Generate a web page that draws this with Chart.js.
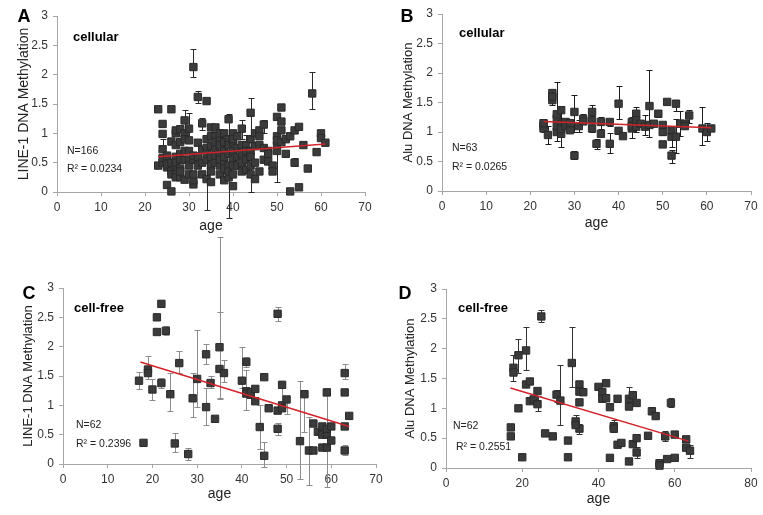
<!DOCTYPE html>
<html>
<head>
<meta charset="utf-8">
<script src="https://cdn.jsdelivr.net/npm/chart.js@4"></script>
<style>
    body { margin: 0; background: #fff; width: 763px; height: 515px; overflow: hidden; position: relative; }
    canvas { position: absolute; }
</style>
</head>
<body>
<canvas id="chartA" width="380" height="255" style="left:0;top:0"></canvas>
<canvas id="chartB" width="383" height="255" style="left:380px;top:0"></canvas>
<canvas id="chartC" width="395" height="290" style="left:0;top:225px"></canvas>
<canvas id="chartD" width="383" height="260" style="left:380px;top:255px"></canvas>
<script>
// [age, methylation]
const ptsA = [
    [23, 1.41], [23, 0.45],
    [24, 1.16], [24, 0.99], [24, 0.73], [24, 0.5], [24, 0.58],
    [25, 0.12], [25, 0.55], [25, 0.42], [25, 0.62], [25, 0.47],
    [26, 1.41], [26, 0.01], [26, 0.86], [26, 0.35], [26, 0.5], [26, 0.3],
    [27, 1.0], [27, 0.8], [27, 0.6], [27, 0.3], [27, 0.45], [27, 1.05], [27, 0.25], [27, 0.5],
    [28, 1.07], [28, 0.65], [28, 0.55], [28, 0.4], [28, 0.25], [28, 0.35], [28, 0.85],
    [29, 1.22], [29, 1.0], [29, 0.9], [29, 0.21], [29, 0.55], [29, 0.7],
    [30, 1.08], [30, 0.88], [30, 0.55], [30, 0.3], [30, 0.45], [30, 0.7],
    [31, 2.13], [31, 0.13], [31, 0.2], [31, 0.55], [31, 0.3], [31, 0.62],
    [32, 1.62], [32, 0.84], [32, 0.45], [32, 0.6],
    [33, 1.17], [33, 0.5], [33, 0.72], [33, 0.3],
    [34, 1.55], [34, 0.75], [34, 0.22], [34, 0.55], [34, 0.65], [34, 0.9],
    [35, 1.1], [35, 0.17], [35, 0.95], [35, 0.6], [35, 0.45], [35, 0.78], [35, 0.35],
    [36, 1.1], [36, 0.95], [36, 0.75], [36, 0.5], [36, 0.62], [36, 0.85],
    [37, 0.9], [37, 0.8], [37, 0.65], [37, 0.45], [37, 0.55], [37, 1.0], [37, 0.3],
    [38, 1.0], [38, 0.85], [38, 0.7], [38, 0.5], [38, 0.4], [38, 0.6], [38, 0.2],
    [39, 1.24], [39, 0.9], [39, 0.8], [39, 0.25], [39, 0.45], [39, 0.65], [39, 0.35],
    [40, 1.0], [40, 0.85], [40, 0.7], [40, 0.55], [40, 0.1], [40, 0.3], [40, 0.9], [40, 0.45],
    [41, 0.45], [41, 0.75], [41, 0.6], [41, 0.95],
    [42, 1.08], [42, 0.8], [42, 0.65], [42, 0.5], [42, 0.35],
    [43, 0.8], [43, 0.55], [43, 0.38], [43, 0.7],
    [44, 1.35], [44, 0.7], [44, 0.3], [44, 0.9], [44, 0.6], [44, 0.45],
    [45, 1.0], [45, 0.22], [45, 0.5], [45, 0.78],
    [46, 1.05], [46, 0.8], [46, 0.35], [46, 0.95],
    [47, 1.15], [47, 0.55], [47, 0.75],
    [48, 0.7], [48, 0.65], [48, 0.52],
    [49, 0.45], [49, 0.35],
    [50, 1.28], [50, 0.95], [50, 0.7], [50, 0.8], [50, 0.88],
    [51, 1.44], [51, 1.2], [51, 1.05], [51, 0.85],
    [52, 0.65], [52, 0.9], [53, 0.01], [53, 0.95], [54, 1.05], [54, 0.5],
    [55, 1.11], [55, 0.08], [56, 0.8], [57, 0.4], [58, 1.68], [59, 0.68],
    [60, 1.0], [60, 0.92], [61, 0.84]
];
// [age, low, high]
const errA = [
    [31, 1.96, 2.43], [32, 1.52, 1.73], [29, 1.0, 1.4], [30, 0.9, 1.35], [33, 1.05, 1.26],
    [39, 0.95, 1.33], [38, 0.33, 0.85], [44, 0.0, 1.6], [42, 0.9, 1.22], [43, 0.6, 0.97],
    [47, 1.0, 1.22], [50, 0.17, 0.95], [58, 1.41, 2.04], [34, -0.3, 0.5], [39, -0.45, 0.5],
    [54, 0.45, 0.58], [24, 0.58, 0.9]
];
const trendA = [[23, 0.6], [61, 0.82]];

const ptsB = [
    [23, 1.11], [23, 1.06], [23, 1.15], [24, 0.95], [25, 1.66], [25, 1.54], [25, 1.6],
    [26, 1.23], [26, 1.0], [26, 1.1], [26, 1.3], [27, 1.37], [27, 0.97], [27, 1.14], [27, 1.05],
    [28, 1.17], [28, 1.1], [29, 1.03], [29, 1.15], [30, 1.34], [30, 0.6], [31, 1.1],
    [32, 1.22], [32, 1.18], [34, 1.34], [34, 1.06], [34, 1.2], [35, 0.8], [36, 0.97], [36, 1.17],
    [38, 1.17], [38, 0.8], [40, 1.48], [40, 1.02], [41, 0.93], [43, 1.17], [43, 1.06], [43, 1.1],
    [44, 1.31], [44, 1.09], [44, 1.2], [45, 1.14], [46, 1.09], [47, 1.44], [47, 1.12], [48, 1.14],
    [49, 1.31], [50, 1.12], [50, 1.0], [50, 0.79], [51, 1.51], [52, 0.92], [52, 0.6], [52, 1.03],
    [53, 1.48], [53, 0.92], [54, 1.14], [55, 1.14], [55, 1.1], [56, 1.28], [59, 1.06], [60, 1.0],
    [61, 1.06]
];
const errB = [
    [23, 1.0, 1.2], [24, 0.8, 1.1], [26, 0.85, 1.85], [27, 0.75, 1.1], [27, 1.2, 1.4], [25, 1.45, 1.68],
    [29, 1.0, 1.2], [30, 1.0, 1.63], [30, 0.55, 0.68], [31, 1.0, 1.2], [32, 1.15, 1.3], [34, 1.0, 1.45],
    [35, 0.72, 0.88], [36, 1.05, 1.25], [38, 0.65, 0.98], [38, 1.1, 1.22], [40, 1.22, 1.78],
    [43, 0.9, 1.25], [44, 1.0, 1.42], [46, 0.95, 1.28], [47, 0.92, 2.05], [49, 1.25, 1.33],
    [50, 0.95, 1.15], [52, 0.48, 0.7], [52, 0.75, 1.1], [53, 0.65, 1.22], [53, 1.35, 1.5],
    [54, 0.93, 1.35], [56, 1.15, 1.38], [59, 0.78, 1.43], [60, 0.85, 1.15]
];
const trendB = [[23, 1.18], [61, 1.07]];

const ptsC = [
    [17, 1.42], [18, 0.36], [19, 1.61], [19, 1.55], [20, 1.27], [21, 2.5], [21, 2.25], [22, 2.73],
    [22, 1.38], [23, 2.27], [24, 1.19], [25, 0.35], [26, 1.72], [28, 0.17], [29, 1.12], [30, 1.45],
    [32, 1.87], [32, 0.97], [33, 1.38], [34, 0.77], [35, 1.99], [35, 1.62], [36, 1.55], [40, 1.42],
    [41, 1.74], [41, 1.24], [41, 1.2], [42, 1.18], [42, 1.22], [43, 1.28], [43, 1.07], [44, 0.63],
    [45, 1.48], [45, 0.14], [46, 0.95], [48, 2.56], [48, 0.91], [48, 0.6], [49, 1.35], [49, 1.0],
    [49, 0.95], [50, 1.1], [53, 0.39], [54, 1.19], [55, 0.23], [56, 0.69], [56, 0.23], [57, 0.55],
    [58, 0.64], [58, 0.5], [58, 0.28], [59, 1.22], [59, 0.5], [59, 0.28], [59, 0.6], [60, 0.64],
    [60, 0.4], [63, 1.55], [63, 1.22], [63, 0.64], [63, 0.23], [64, 0.82]
];
const errC = [
    [17, 1.28, 1.57], [19, 1.45, 1.84], [20, 1.09, 1.45], [22, 1.3, 1.47], [23, 2.2, 2.35],
    [24, 0.9, 1.55], [25, 0.2, 0.52], [26, 1.55, 1.92], [28, 0.07, 0.28], [29, 0.8, 1.55],
    [30, 0.97, 2.28], [32, 1.7, 2.05], [32, 0.67, 1.3], [33, 1.3, 1.5], [35, 1.12, 3.87],
    [35, 1.1, 2.59], [36, 1.4, 1.77], [40, 1.3, 1.99], [41, 1.65, 1.83], [41, 0.92, 1.6],
    [44, 0.26, 1.0], [45, -0.05, 0.38], [48, 2.44, 2.67], [48, 0.5, 0.7], [49, 0.9, 1.4],
    [50, 0.85, 1.15], [53, -0.25, 1.42], [54, 0.55, 1.26], [55, -0.35, 0.8], [59, -0.4, 1.3],
    [63, 1.45, 1.7], [63, 0.15, 0.33]
];
const trendC = [[17.3, 1.74], [64, 0.64]];

const ptsD = [
    [17, 0.68], [17, 0.53], [17.7, 1.68], [17.7, 1.6], [19, 1.89], [19, 1.0], [20, 0.18],
    [21, 1.97], [21, 1.4], [22, 1.45], [22, 1.12], [23, 1.15], [24, 1.29], [24, 1.07], [25, 2.54],
    [26, 0.58], [28, 0.53], [29, 1.23], [30, 1.13], [32, 0.46], [32, 0.18], [33, 1.76], [34, 0.78],
    [35, 1.4], [35, 1.28], [35, 1.1], [35, 0.66], [36, 1.27], [40, 1.36], [41, 1.27], [41, 1.16],
    [42, 1.42], [42, 1.17], [43, 1.02], [43, 0.17], [44, 0.7], [45, 1.16], [45, 0.39], [46, 0.42],
    [48, 1.16], [48, 1.03], [48, 0.11], [49, 1.22], [49, 0.4], [50, 1.09], [50, 0.5], [50, 0.26],
    [53, 0.54], [54, 0.95], [55, 0.87], [56, 0.08], [56, 0.04], [57.5, 0.53], [58, 0.15],
    [59, 1.09], [60, 0.56], [60, 0.17], [63, 0.48], [63, 0.34], [64, 0.29], [34, 0.72], [44, 0.66]
];
const errD = [
    [17.7, 1.45, 1.9], [19, 1.6, 2.17], [21, 1.65, 2.36], [24, 0.96, 1.2], [25, 2.44, 2.64],
    [29, 1.1, 1.3], [30, 0.72, 1.73], [33, 1.35, 2.36], [34, 0.7, 0.88], [35, 0.57, 0.73],
    [44, 0.6, 0.8], [48, 1.0, 1.35], [50, 0.17, 0.35], [54, 0.9, 1.03], [57.5, 0.45, 0.62],
    [59, 1.03, 1.17], [64, 0.17, 0.38], [19, 0.95, 1.05]
];
const trendD = [[16.9, 1.34], [63.6, 0.45]];

const yTicks = [0, 0.5, 1, 1.5, 2, 2.5, 3];

Chart.defaults.font.family = "'Liberation Sans', Arial, sans-serif";
Chart.defaults.color = '#333';

const errorBars = {
    id: 'errorBars',
    beforeDatasetsDraw(chart, args, opts) {
        const { ctx, scales: { x, y } } = chart;
        ctx.save();
        ctx.strokeStyle = opts.color;
        ctx.lineWidth = 1;
        opts.bars.forEach(([age, lo, hi]) => {
            const px = Math.round(x.getPixelForValue(age)) + 0.5;
            const top = Math.round(y.getPixelForValue(hi)) + 0.5;
            const bot = Math.round(y.getPixelForValue(lo)) + 0.5;
            ctx.beginPath();
            ctx.moveTo(px, top); ctx.lineTo(px, bot);
            ctx.moveTo(px - 3, top); ctx.lineTo(px + 3, top);
            ctx.moveTo(px - 3, bot); ctx.lineTo(px + 3, bot);
            ctx.stroke();
        });
        ctx.restore();
    }
};

const panelText = {
    id: 'panelText',
    afterDraw(chart, args, o) {
        const ctx = chart.ctx;
        ctx.save();
        ctx.textBaseline = 'middle';
        ctx.textAlign = 'center';
        ctx.fillStyle = '#000';
        ctx.font = "bold 18px 'Liberation Sans', Arial, sans-serif";
        ctx.fillText(o.letter, o.letterPos[0], o.letterPos[1]);
        ctx.textAlign = 'left';
        ctx.font = "bold 13px 'Liberation Sans', Arial, sans-serif";
        ctx.fillText(o.group, o.groupPos[0], o.groupPos[1]);
        ctx.fillStyle = '#222';
        ctx.font = "10.5px 'Liberation Sans', Arial, sans-serif";
        ctx.fillText(o.n, o.nPos[0], o.nPos[1]);
        ctx.fillText(o.r2, o.r2Pos[0], o.r2Pos[1]);
        ctx.restore();
    }
};

const toXY = arr => arr.map(([x, y]) => ({ x, y }));

function makePanel(p) {
    const axisGrey = '#a6a6a6';
    new Chart(document.getElementById(p.id), {
        type: 'scatter',
        data: {
            datasets: [{
                data: toXY(p.trend),
                showLine: true,
                borderColor: '#d2232a',
                borderWidth: 1.5,
                pointRadius: 0,
                clip: false
            }, {
                data: toXY(p.pts),
                pointStyle: 'rect',
                pointRadius: 5.2,
                backgroundColor: '#3b3b3b',
                borderColor: '#2a2a2a',
                borderWidth: 1,
                clip: false
            }]
        },
        options: {
            responsive: false,
            animation: false,
            devicePixelRatio: 1,
            layout: { padding: { left: 0, top: p.padTop, right: p.padRight, bottom: 0 } },
            plugins: {
                legend: { display: false },
                tooltip: { enabled: false },
                errorBars: { bars: p.err, color: p.errColor },
                panelText: p.text
            },
            scales: {
                x: {
                    type: 'linear',
                    min: 0, max: p.xMax,
                    afterFit: s => { s.height = p.xH; },
                    ticks: { stepSize: p.xStep, padding: 4, font: { size: 12 }, color: '#333', maxRotation: 0 },
                    grid: { drawOnChartArea: false, drawTicks: true, tickLength: 4, color: axisGrey },
                    border: { color: axisGrey },
                    title: { display: true, text: 'age', font: { size: 14 }, color: '#222', padding: { top: 0, bottom: p.xTitlePad } }
                },
                y: {
                    min: 0, max: 3,
                    afterFit: s => { s.width = p.yW; },
                    afterBuildTicks: s => { s.ticks = yTicks.map(v => ({ value: v })); },
                    ticks: { padding: 5, font: { size: 12 }, color: '#333', callback: v => String(v) },
                    grid: { drawOnChartArea: false, drawTicks: true, tickLength: 4, color: axisGrey },
                    border: { color: axisGrey },
                    title: { display: true, text: p.yTitle, font: { size: p.yTitleSize }, color: '#222', padding: { top: p.yTitlePad, bottom: 0 } }
                }
            }
        },
        plugins: [errorBars, panelText]
    });
}

document.addEventListener('DOMContentLoaded', function () {
    makePanel({
        id: 'chartA', pts: ptsA, err: errA, trend: trendA, errColor: '#2a2a2a',
        yTitle: 'LINE-1 DNA Methylation', yTitleSize: 14, xMax: 70, xStep: 10,
        padTop: 16, padRight: 15, yW: 57, xH: 63, yTitlePad: 16, xTitlePad: 20,
        text: { letter: 'A', letterPos: [24, 17], group: 'cellular', groupPos: [73, 37],
            n: 'N=166', nPos: [67, 151], r2: 'R² = 0.0234', r2Pos: [67, 169] }
    });
    makePanel({
        id: 'chartB', pts: ptsB, err: errB, trend: trendB, errColor: '#1e1e1e',
        yTitle: 'Alu DNA Methylation', yTitleSize: 13, xMax: 70, xStep: 10,
        padTop: 14, padRight: 12, yW: 62, xH: 64, yTitlePad: 21, xTitlePad: 23,
        text: { letter: 'B', letterPos: [27, 17], group: 'cellular', groupPos: [79, 33],
            n: 'N=63', nPos: [72, 148], r2: 'R² = 0.0265', r2Pos: [72, 167] }
    });
    makePanel({
        id: 'chartC', pts: ptsC, err: errC, trend: trendC, errColor: '#8c8c8c',
        yTitle: 'LINE-1 DNA Methylation', yTitleSize: 13, xMax: 70, xStep: 10,
        padTop: 63, padRight: 19, yW: 63, xH: 51, yTitlePad: 21, xTitlePad: 12,
        text: { letter: 'C', letterPos: [29, 69], group: 'cell-free', groupPos: [74, 83],
            n: 'N=62', nPos: [76, 200], r2: 'R² = 0.2396', r2Pos: [76, 219] }
    });
    makePanel({
        id: 'chartD', pts: ptsD, err: errD, trend: trendD, errColor: '#333',
        yTitle: 'Alu DNA Methylation', yTitleSize: 13, xMax: 80, xStep: 20,
        padTop: 34, padRight: 12, yW: 66, xH: 47, yTitlePad: 23, xTitlePad: 7,
        text: { letter: 'D', letterPos: [25, 39], group: 'cell-free', groupPos: [78, 53],
            n: 'N=62', nPos: [73, 171], r2: 'R² = 0.2551', r2Pos: [76, 192] }
    });
});
</script>
</body>
</html>
